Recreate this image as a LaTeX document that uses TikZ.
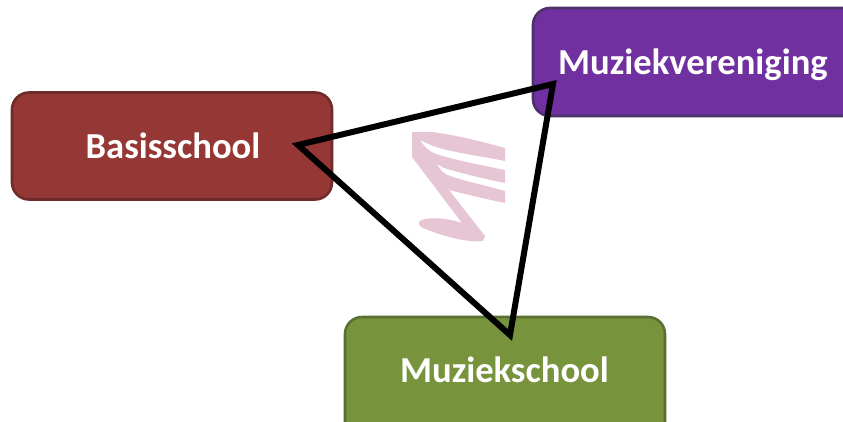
\documentclass[tikz,border=0pt]{standalone}
\usepackage{fontspec}
\setmainfont{Carlito}
\definecolor{redfill}{HTML}{953735}
\definecolor{rededge}{HTML}{6F2B2A}
\definecolor{purplefill}{HTML}{7030A0}
\definecolor{purpleedge}{HTML}{4B3268}
\definecolor{greenfill}{HTML}{77933C}
\definecolor{greenedge}{HTML}{5A7033}
\definecolor{notepink}{HTML}{E6C6D4}
\tikzset{
  x=1pt,y=-1pt,
  boxstyle/.style={rounded corners=17pt,line width=2.6pt},
  labelstyle/.style={text=white,font=\fontsize{36.6}{42}\selectfont\bfseries,inner sep=0pt},
  triangleline/.style={draw=black,line width=6pt,miter limit=10,line join=miter},
  notemark/.style={fill=notepink,draw=none}
}
\begin{document}
\begin{tikzpicture}
\useasboundingbox (0,0) rectangle (843,421);
\clip (0,0) rectangle (843,421);
% boxes
\draw[boxstyle,fill=redfill,draw=rededge] (12,92.5) rectangle (332,199.5);
\draw[boxstyle,fill=purplefill,draw=purpleedge] (533,8) rectangle (862,116);
\draw[boxstyle,fill=greenfill,draw=greenedge] (345,317) rectangle (665,440);
% note
\path[notemark] (412,132) -- (432,132)
  .. controls (455,135) and (480,141) .. (505,148)
  -- (505,161)
  .. controls (480,156) and (450,152) .. (433,146)
  .. controls (428,144) and (424,142) .. (420,140)
  .. controls (424,146) and (428,151) .. (436,154)
  .. controls (455,160) and (480,165) .. (505,170)
  -- (505,183)
  .. controls (485,179) and (460,173) .. (444,168)
  -- (437,164)
  .. controls (440,170) and (444,174) .. (450,176)
  .. controls (468,182) and (488,186) .. (505,191)
  -- (505,203)
  .. controls (485,199) and (465,194) .. (449,190)
  -- (485,236) -- (483,241)
  .. controls (465,243) and (440,235) .. (423,228)
  .. controls (416,224) and (418,221) .. (425,219)
  .. controls (437,217) and (450,219) .. (462,223)
  -- (412,157) -- cycle;
% triangle
\coordinate (vb) at (298,145);
\coordinate (vm) at (553,84);
\coordinate (vs) at (510,335);
\draw[triangleline] (vb) -- (vm) -- (vs) -- cycle;
% labels
\node[labelstyle] (basisschool) at (173,146) {Basisschool};
\node[labelstyle] (muziekvereniging) at (693,64.5) {Muziekvereniging};
\node[labelstyle] (muziekschool) at (504.5,370) {Muziekschool};
\end{tikzpicture}
\end{document}
